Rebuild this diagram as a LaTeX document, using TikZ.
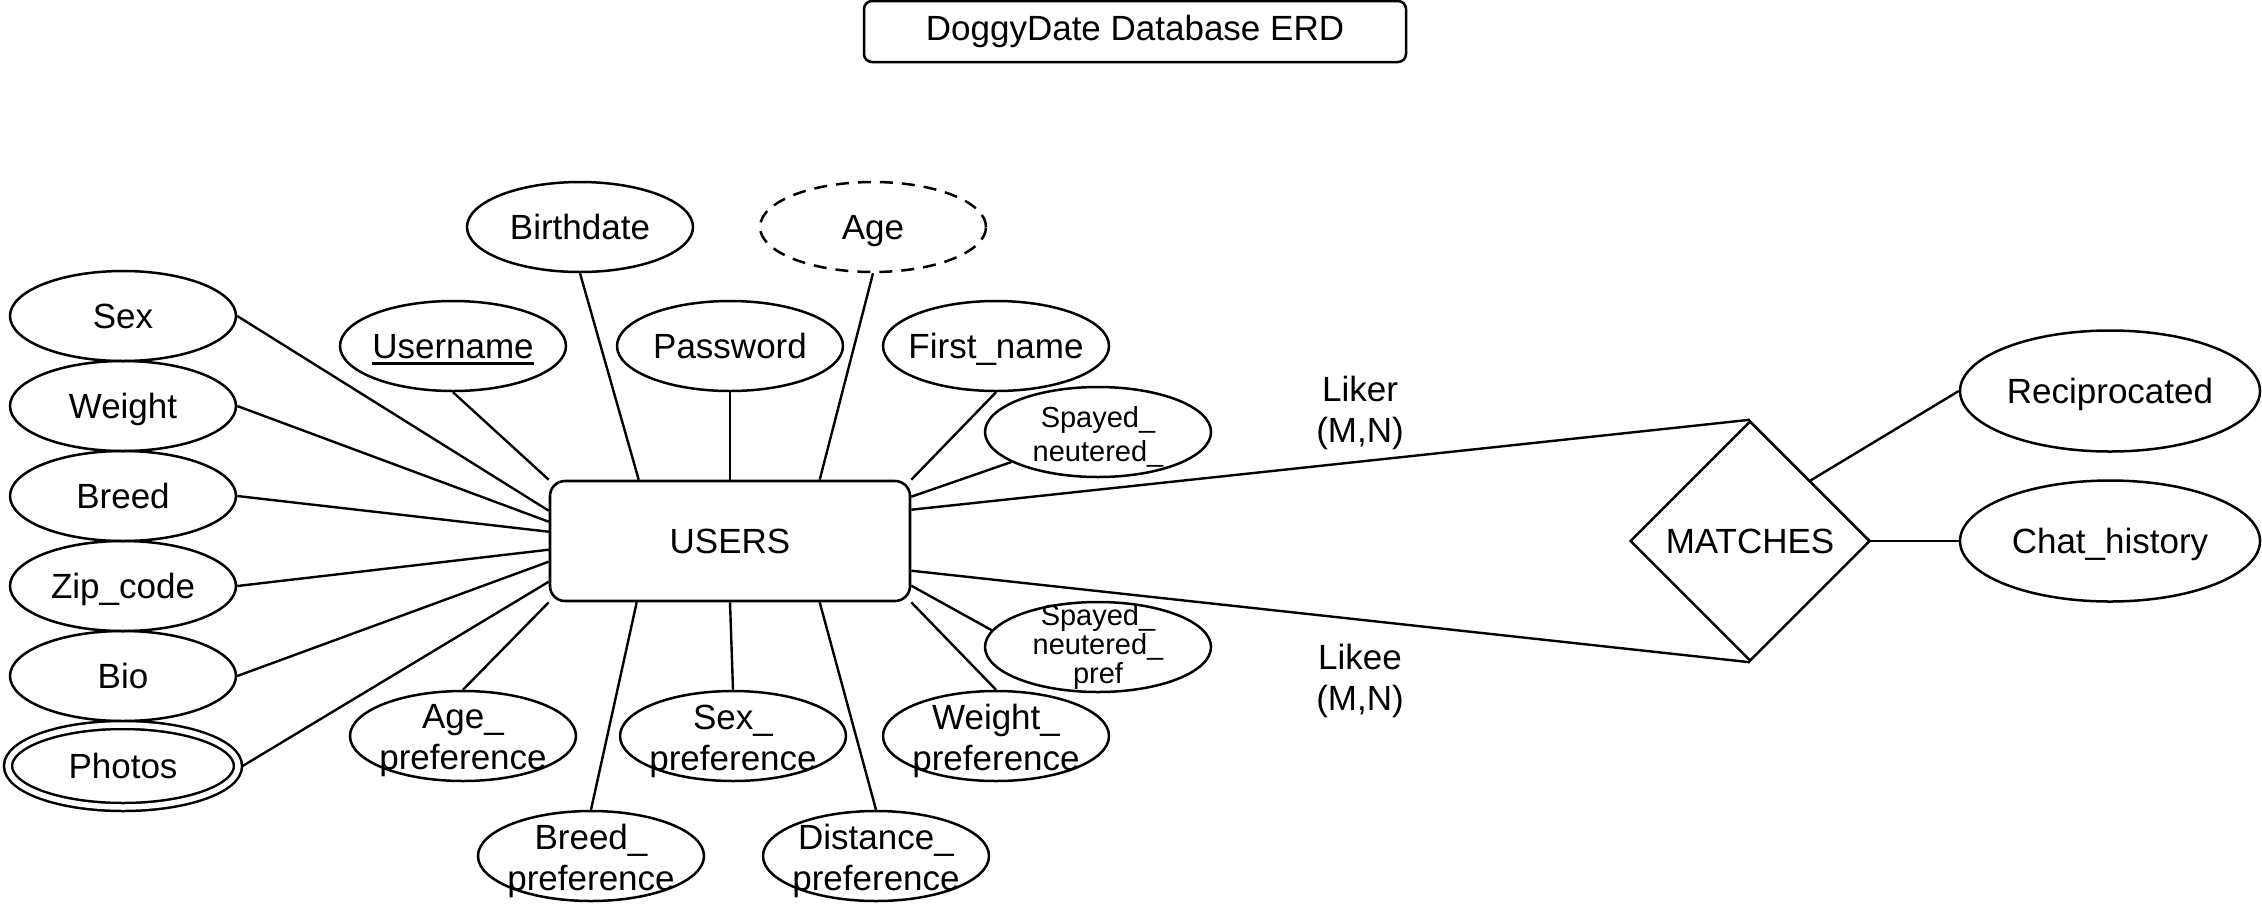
\documentclass[tikz,border=0pt]{standalone}
\usepackage{fontspec}
\setmainfont{Liberation Sans}
\usetikzlibrary{shapes.geometric,calc}
\newcommand\ulbox[1]{\setbox0=\hbox{#1}\rlap{\rule[-3.3pt]{\wd0}{1.4pt}}\box0}
\tikzset{
  mainfont/.style={font=\fontsize{17.5}{17.5}\selectfont},
  attr/.style={ellipse, draw, line width=1.25pt, inner sep=0pt, minimum width=113pt, minimum height=45pt},
  bigattr/.style={attr, minimum width=150pt, minimum height=60.5pt},
  lbl/.style={align=center, inner sep=0pt, mainfont, text height=12.5pt, text depth=0pt},
  twolbl/.style={align=center, inner sep=0pt, font=\fontsize{17.5}{20.5}\selectfont, yshift=-2.5pt},
  smalllbl/.style={align=center, inner sep=0pt, font=\fontsize{14.5}{17}\selectfont},
  tightlbl/.style={align=center, inner sep=0pt, font=\fontsize{14.5}{11.8}\selectfont},
  entitybox/.style={rectangle, draw, line width=1.3pt, rounded corners=7.5pt, minimum width=180pt, minimum height=60pt, inner sep=0pt, mainfont},
  relbox/.style={diamond, draw, line width=1.25pt, aspect=1, minimum width=120pt, minimum height=120pt, inner sep=0pt, mainfont},
  titlebox/.style={rectangle, draw, line width=1.25pt, rounded corners=4pt, minimum width=271pt, minimum height=30.5pt, inner sep=0pt, mainfont},
  rolelbl/.style={align=center, inner sep=0pt, font=\fontsize{17.5}{20.5}\selectfont},
  conn/.style={line width=1.2pt}
}
\begin{document}
\begin{tikzpicture}[x=0.5pt, y=-0.5pt]
\fill[white] (0,0) rectangle (2262,906);
\useasboundingbox (0,0) rectangle (2262,906);

\node[titlebox] (title) at (1135,31.5) {DoggyDate Database ERD};

\node[entitybox] (users) at (730,541) {USERS};
\node[relbox] (matches) at (1750,541) {MATCHES};

% left column
\node[attr, label={[lbl]center:Sex}] (sex) at (123,316) {};
\node[attr, label={[lbl]center:Weight}] (weight) at (123,406) {};
\node[attr, label={[lbl]center:Breed}] (breed) at (123,496) {};
\node[attr, label={[lbl]center:Zip\_code}] (zip) at (123,586) {};
\node[attr, label={[lbl]center:Bio}] (bio) at (123,676) {};
\node[attr, double, double distance=2.75pt, minimum width=115pt, minimum height=41pt, outer sep=2.3pt, label={[lbl]center:Photos}] (photos) at (123,766) {};

% top
\node[attr, label={[lbl]center:\ulbox{Username}}] (username) at (453,346) {};
\node[attr, label={[lbl]center:Birthdate}] (birthdate) at (580,227) {};
\node[attr, label={[lbl]center:Password}] (password) at (730,346) {};
\node[attr, dash pattern=on 6.5pt off 4.5pt, label={[lbl]center:Age}] (age) at (873,227) {};
\node[attr, label={[lbl]center:First\_name}] (firstname) at (996,346) {};
\node[attr, label={[smalllbl, yshift=-2.5pt]center:Spayed\_\\neutered\_}] (spay) at (1098,432) {};

% bottom
\node[attr, label={[tightlbl]center:Spayed\_\\neutered\_\\pref}] (spaypref) at (1098,647) {};
\node[attr, label={[twolbl]center:Age\_\\preference}] (agepref) at (463,736) {};
\node[attr, label={[twolbl]center:Sex\_\\preference}] (sexpref) at (733,736) {};
\node[attr, label={[twolbl]center:Weight\_\\preference}] (weightpref) at (996,736) {};
\node[attr, label={[twolbl]center:Breed\_\\preference}] (breedpref) at (591,856) {};
\node[attr, label={[twolbl]center:Distance\_\\preference}] (distpref) at (876,856) {};

% right
\node[bigattr, label={[lbl]center:Reciprocated}] (recip) at (2110,391) {};
\node[bigattr, label={[lbl]center:Chat\_history}] (chat) at (2110,541) {};

\node[rolelbl] (liker) at (1360,413) {Liker\\(M,N)};
\node[rolelbl] (likee) at (1360,681) {Likee\\(M,N)};

% connectors
\draw[conn] (sex.east) -- ($(users.north west)+(0,31)$);
\draw[conn] (weight.east) -- ($(users.north west)+(0,42)$);
\draw[conn] (breed.east) -- ($(users.north west)+(0,52)$);
\draw[conn] (zip.east) -- ($(users.north west)+(0,70)$);
\draw[conn] (bio.east) -- ($(users.north west)+(0,82)$);
\draw[conn] (photos.east) -- ($(users.north west)+(0,102)$);

\draw[conn] (username.south) -- (users.north west);
\draw[conn] (birthdate.south) -- ($(users.north west)+(90,0)$);
\draw[conn] (password.south) -- (users.north);
\draw[conn] (age.south) -- ($(users.north west)+(271,0)$);
\draw[conn] (firstname.south) -- (users.north east);
\draw[conn] (spay) -- ($(users.north east)+(0,17)$);

\draw[conn] (spaypref.171) -- ($(users.north east)+(0,106)$);
\draw[conn] (weightpref.north) -- (users.south east);
\draw[conn] (sexpref.north) -- (users.south);
\draw[conn] (agepref.north) -- (users.south west);
\draw[conn] (breedpref.north) -- ($(users.south west)+(88,0)$);
\draw[conn] (distpref.north) -- ($(users.south west)+(271,0)$);

\draw[conn] ($(users.north east)+(0,30)$) -- (matches.north);
\draw[conn] ($(users.north east)+(0,91)$) -- (matches.south);
\draw[conn] (matches.north east) -- (recip.west);
\draw[conn] (matches.east) -- (chat.west);
\end{tikzpicture}
\end{document}
